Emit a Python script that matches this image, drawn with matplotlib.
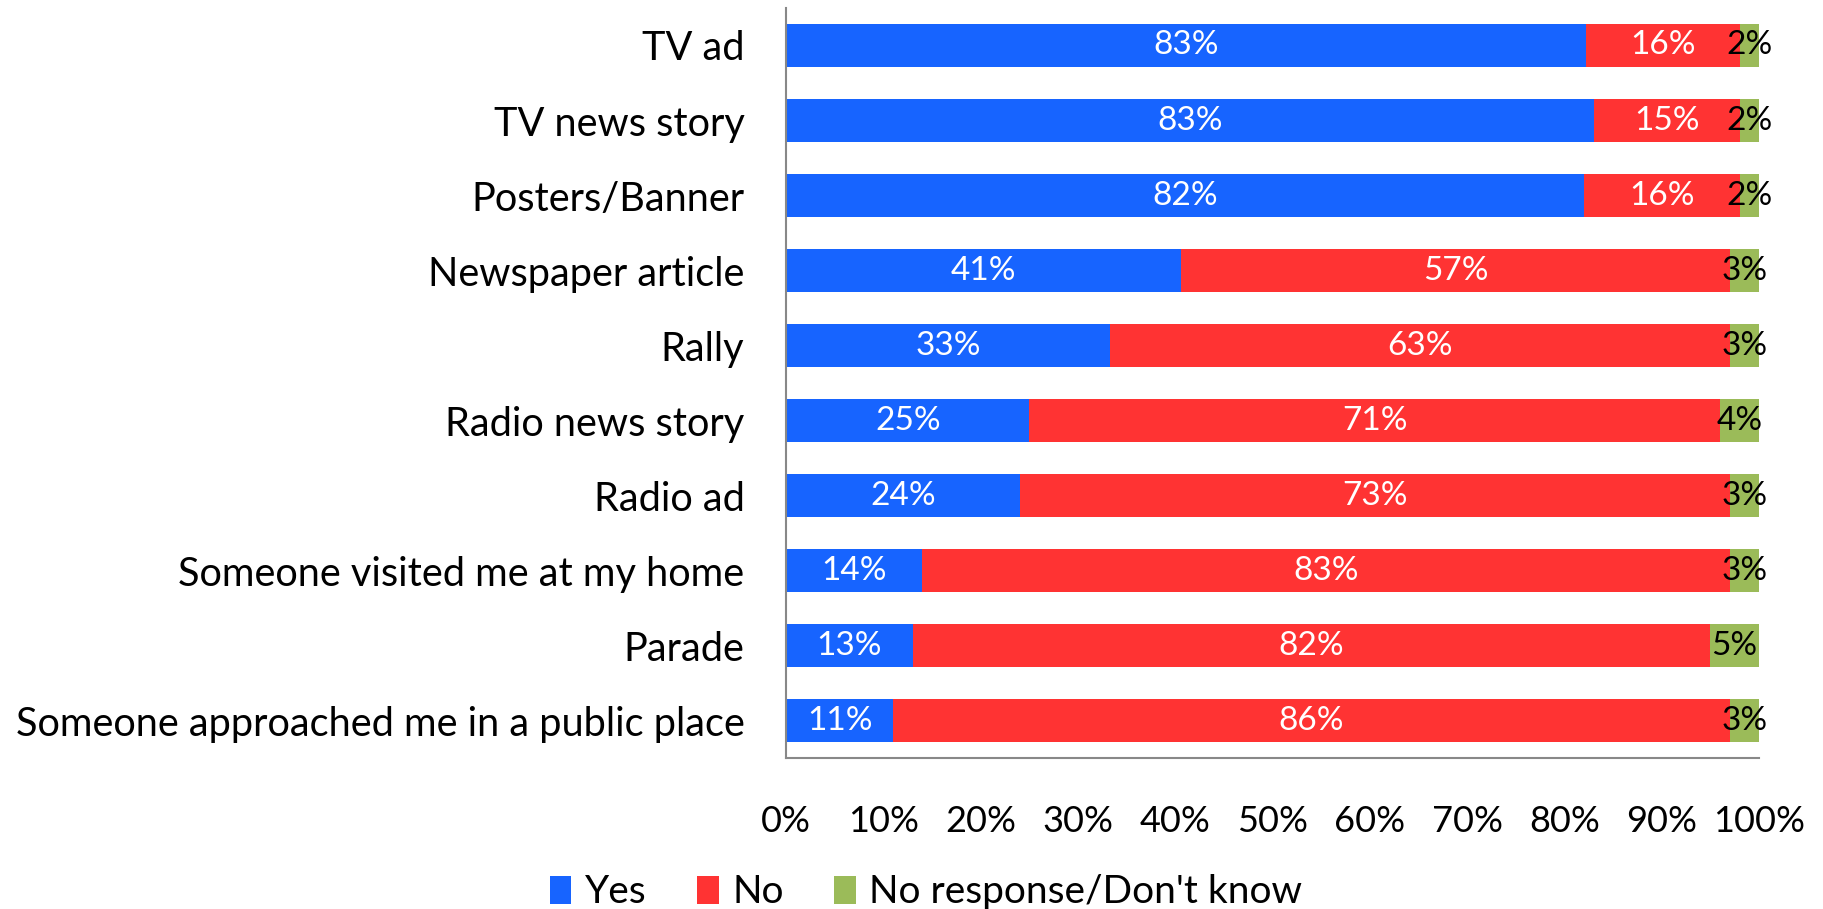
import numpy as np
import matplotlib.pyplot as plt

plt.rcParams['font.family'] = ['Lato', 'DejaVu Sans']

# categorias (de arriba hacia abajo)
categorias = ["TV ad", "TV news story", "Posters/Banner", "Newspaper article", "Rally",
              "Radio news story", "Radio ad", "Someone visited me at my home", "Parade",
              "Someone approached me in a public place"]
si = [83, 83, 82, 41, 33, 25, 24, 14, 13, 11]
no = [16, 15, 16, 57, 63, 71, 73, 83, 82, 86]
ns = [2, 2, 2, 3, 3, 4, 3, 3, 5, 3]

series = ["Yes", "No", "No response/Don't know"]
colores = ["#1764FF", "#FF3333", "#9BBB59"]
colores_texto = ["white", "white", "black"]

datos = np.array([si, no, ns], dtype=float)
pct = datos / datos.sum(axis=0) * 100

fig = plt.figure(figsize=(18.23, 9.09), dpi=100)
ax = fig.add_axes([0.4312, 0.1661, 0.9649 - 0.4312, 0.9912 - 0.1661])

y = np.arange(len(categorias))
izq = np.zeros(len(categorias))
for i in range(3):
    ax.barh(y, pct[i], left=izq, height=0.57, color=colores[i], label=series[i])
    for j in range(len(categorias)):
        ax.text(izq[j] + pct[i][j] / 2, y[j], f"{int(datos[i][j])}%", ha="center", va="center",
                color=colores_texto[i], fontsize=24)
    izq += pct[i]

ax.set_xlim(0, 100)
ax.set_ylim(len(categorias) - 0.5, -0.5)
ax.set_yticks(y)
ax.set_yticklabels(categorias, fontsize=28.6)
ax.set_xticks(np.arange(0, 101, 10))
ax.set_xticklabels([f"{v}%" for v in range(0, 101, 10)], fontsize=26)
ax.tick_params(axis="y", length=0, pad=30)
ax.tick_params(axis="x", length=0, pad=34)
for s in ["top", "right"]:
    ax.spines[s].set_visible(False)
for s in ["left", "bottom"]:
    ax.spines[s].set_color("#888888")
    ax.spines[s].set_linewidth(1.5)

fig.legend(loc="lower center", ncol=3, frameon=False, fontsize=28, bbox_to_anchor=(0.508, -0.04),
           handlelength=0.55, handleheight=0.75, columnspacing=1.3, handletextpad=0.35)

plt.savefig("out.png", dpi=100)
